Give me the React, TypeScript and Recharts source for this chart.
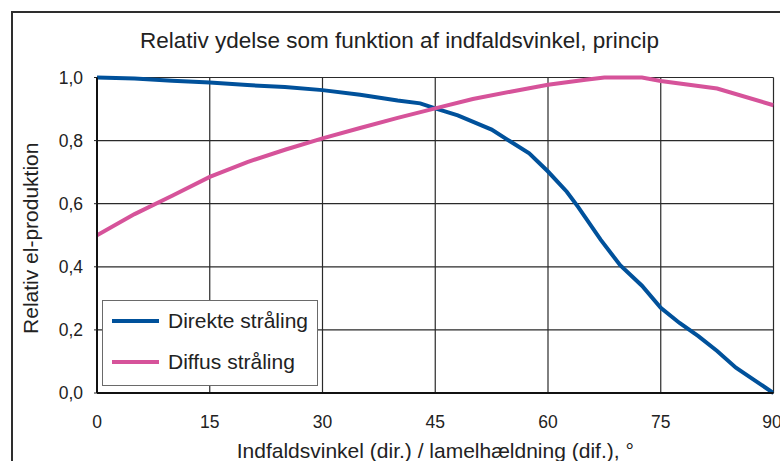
import React from 'react';
import { LineChart, Line, XAxis, YAxis, CartesianGrid } from 'recharts';

// tick values
const angleTicks = [0, 15, 30, 45, 60, 75, 90];
const valueTicks = [0, 0.2, 0.4, 0.6, 0.8, 1.0];

// Direkte stråling
const direkteAngles = [0, 5, 10, 15, 20, 25, 30, 35, 40, 43, 45, 48, 52.5, 55, 57.5, 60, 62.5, 64, 67, 69.6, 72.5, 75, 77.5, 80, 82.5, 85, 87.5, 90];
const direkteValues = [1.0, 0.997, 0.99, 0.984, 0.976, 0.97, 0.96, 0.945, 0.927, 0.918, 0.902, 0.88, 0.835, 0.797, 0.76, 0.702, 0.638, 0.59, 0.486, 0.405, 0.34, 0.27, 0.222, 0.18, 0.133, 0.08, 0.04, 0.0];

// Diffus stråling
const diffusAngles = [0, 5, 10, 15, 20, 25, 30, 35, 40, 45, 50, 55, 60, 65, 67.5, 72.5, 75, 82.5, 90];
const diffusValues = [0.5, 0.567, 0.625, 0.685, 0.732, 0.771, 0.807, 0.84, 0.872, 0.902, 0.932, 0.955, 0.977, 0.993, 1.0, 1.0, 0.989, 0.965, 0.912];

const seriesNames = ['Direkte stråling', 'Diffus stråling'];
const seriesColors = ['#00519B', '#D6539A'];

const direkteData = direkteAngles.map((angle, i) => ({ angle, value: direkteValues[i] }));
const diffusData = diffusAngles.map((angle, i) => ({ angle, value: diffusValues[i] }));

const FONT = '"Liberation Sans", Arial, Helvetica, sans-serif';
const TEXT = '#222';

const XTick = (props: any) => {
  const { x, y, payload } = props;
  return (
    <text x={x} y={y + 35} textAnchor="middle" fontSize={17.5} fill={TEXT} fontFamily={FONT}>
      {payload.value}
    </text>
  );
};

const YTick = (props: any) => {
  const { x, y, payload } = props;
  return (
    <text x={x} y={y + 6} textAnchor="end" fontSize={17.5} fill={TEXT} fontFamily={FONT}>
      {Number(payload.value).toFixed(1).replace('.', ',')}
    </text>
  );
};

const XLabel = (props: any) => {
  const { viewBox } = props;
  return (
    <text x={viewBox.x + viewBox.width / 2} y={viewBox.y + 65} textAnchor="middle" fontSize={21} fill={TEXT} fontFamily={FONT}>
      Indfaldsvinkel (dir.) / lamelhældning (dif.), °
    </text>
  );
};

const YLabel = (props: any) => {
  const { viewBox } = props;
  const cx = viewBox.x + 38;
  const cy = viewBox.y + viewBox.height / 2 + 3;
  return (
    <text x={cx} y={cy} transform={`rotate(-90 ${cx} ${cy})`} textAnchor="middle" fontSize={21} fill={TEXT} fontFamily={FONT}>
      Relativ el-produktion
    </text>
  );
};

// legend box drawn over the lower-left corner of the plot
const LegendBox = () => (
  <div style={{ position: 'absolute', left: 102, top: 300, width: 216, height: 86, boxSizing: 'border-box', border: '1.5px solid #6a6a6a', background: '#fff', fontFamily: FONT }}>
    {seriesNames.map((name, i) => (
      <div key={name} style={{ position: 'absolute', left: 9, top: 7 + i * 41, height: 26, display: 'flex', alignItems: 'center' }}>
        <div style={{ width: 47, height: 4, background: seriesColors[i] }} />
        <span style={{ marginLeft: 9, fontSize: 21, color: TEXT, lineHeight: '26px', whiteSpace: 'nowrap' }}>{name}</span>
      </div>
    ))}
  </div>
);

export default function App() {
  return (
    <div style={{ position: 'fixed', left: 0, top: 0, width: 780, height: 461, overflow: 'hidden', background: '#fff' }}>
      <div style={{ position: 'absolute', left: 11, top: 11, width: 820, height: 520, border: '2px solid #2e2e2e' }} />
      <svg width={780} height={461} style={{ position: 'absolute', left: 0, top: 0 }}>
        <text x={399.5} y={47.5} textAnchor="middle" fontSize={22.5} fill={TEXT} fontFamily={FONT}>
          Relativ ydelse som funktion af indfaldsvinkel, princip
        </text>
      </svg>
      <div style={{ position: 'absolute', left: 0, top: 0 }}>
        <LineChart width={780} height={461} margin={{ top: 77.5, right: 6.5, left: 0, bottom: 0 }} style={{ fontFamily: FONT }}>
          <CartesianGrid stroke="#2a2a2a" strokeWidth={1.2} />
          <XAxis
            dataKey="angle"
            type="number"
            domain={[0, 90]}
            ticks={angleTicks}
            allowDataOverflow
            height={68}
            tickLine={false}
            tickSize={0}
            tickMargin={0}
            axisLine={{ stroke: '#111', strokeWidth: 2 }}
            tick={<XTick />}
            label={<XLabel />}
          />
          <YAxis
            type="number"
            domain={[0, 1]}
            ticks={valueTicks}
            width={97}
            tickSize={3}
            tickMargin={11}
            tickLine={{ stroke: '#222' }}
            axisLine={{ stroke: '#111', strokeWidth: 2 }}
            tick={<YTick />}
            label={<YLabel />}
          />
          <Line
            data={direkteData}
            dataKey="value"
            name={seriesNames[0]}
            type="linear"
            stroke={seriesColors[0]}
            strokeWidth={4}
            dot={false}
            isAnimationActive={false}
          />
          <Line
            data={diffusData}
            dataKey="value"
            name={seriesNames[1]}
            type="linear"
            stroke={seriesColors[1]}
            strokeWidth={4}
            dot={false}
            isAnimationActive={false}
          />
        </LineChart>
      </div>
      <LegendBox />
    </div>
  );
}
